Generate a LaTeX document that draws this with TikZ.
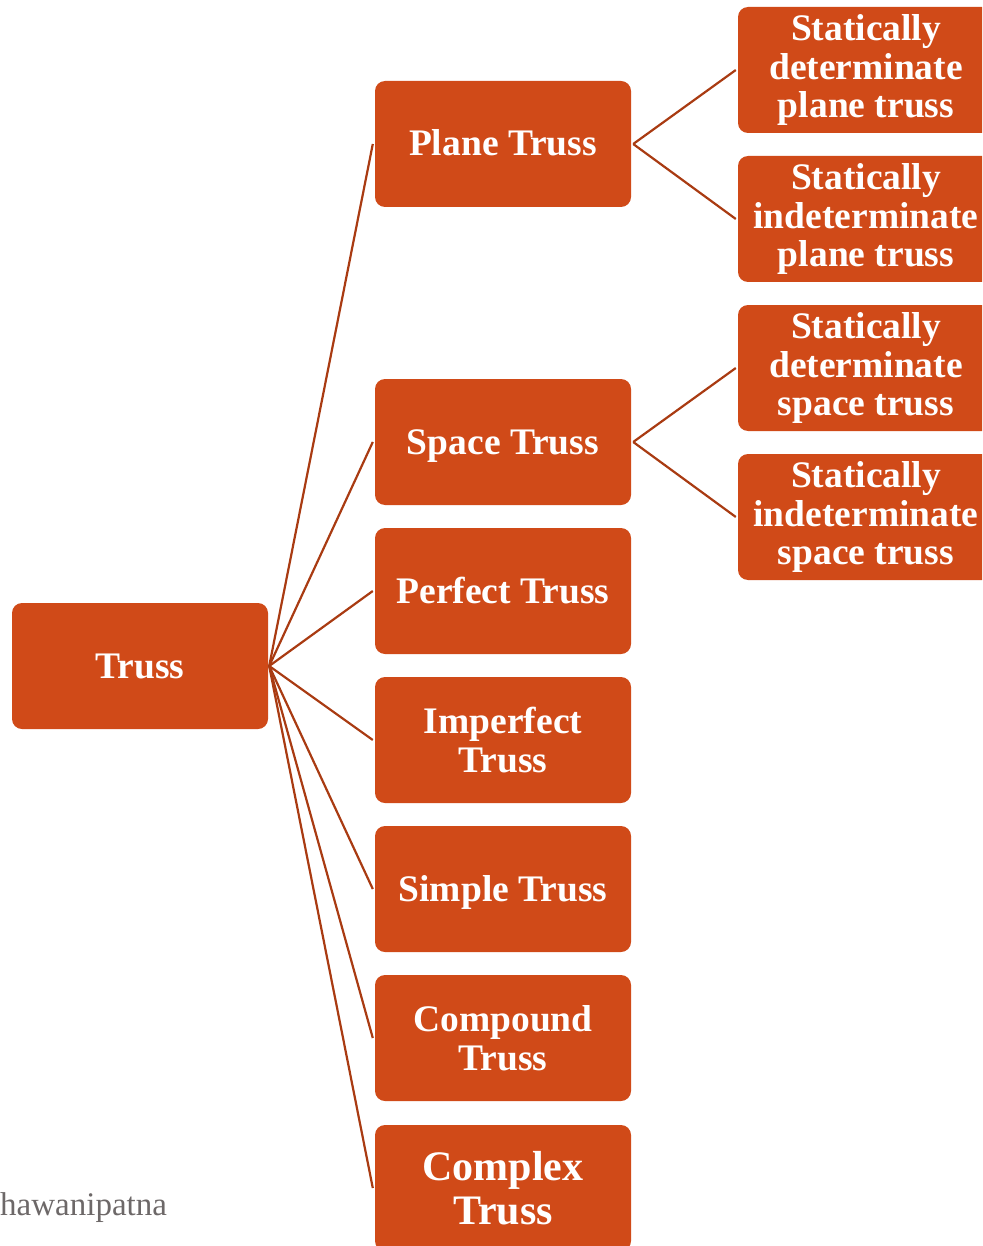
\documentclass[tikz,border=0pt]{standalone}
\usepackage{fontspec}
\setmainfont{Liberation Serif}
\definecolor{boxfill}{HTML}{D04A18}
\definecolor{linecol}{HTML}{A93B12}
\definecolor{wmgray}{HTML}{6D6868}
\begin{document}
\begin{tikzpicture}[x=1pt,y=-1pt,
  box/.style={rectangle,rounded corners=10pt,fill=boxfill,minimum width=256pt,minimum height=126pt,inner sep=2pt,
    text=white,align=center,font=\bfseries\fontsize{37.5}{38.5}\selectfont},
  single/.style={box,text height=28pt,text depth=4pt},
  bigbox/.style={box,font=\bfseries\fontsize{42}{43.5}\selectfont},
  link/.style={draw=linecol,line width=2.2pt}]
\useasboundingbox (0,0) rectangle (982,1246);
\clip (0,0) rectangle (982,1246);
\node[single] (truss) at (140,666) {Truss};
\node[single] (plane) at (503,144) {Plane Truss};
\node[single] (space) at (503,442) {Space Truss};
\node[single] (perfect) at (503,591) {Perfect Truss};
\node[box] (imperfect) at (503,740) {Imperfect\\Truss};
\node[single] (simple) at (503,889) {Simple Truss};
\node[box] (compound) at (503,1038) {Compound\\Truss};
\node[bigbox] (complex) at (503,1188) {Complex\\Truss};
\node[box] (sdp) at (866,70) {Statically\\determinate\\plane truss};
\node[box] (sip) at (866,219) {Statically\\indeterminate\\plane truss};
\node[box] (sds) at (866,368) {Statically\\determinate\\space truss};
\node[box] (sis) at (866,517) {Statically\\indeterminate\\space truss};
\node[anchor=base west,inner sep=0pt,text=wmgray,font=\fontsize{33}{35}\selectfont] (wm) at (0,1215) {hawanipatna};
\coordinate (tr) at ([xshift=1pt]truss.east);
\foreach \n in {plane,space,perfect,imperfect,simple,compound,complex}
  \draw[link] (tr) -- ([xshift=-2pt]\n.west);
\foreach \p/\a/\b in {plane/sdp/sip,space/sds/sis}{
  \draw[link] ([xshift=2pt]\p.east) -- ([xshift=-2pt]\a.west);
  \draw[link] ([xshift=2pt]\p.east) -- ([xshift=-2pt]\b.west);
}
\end{tikzpicture}
\end{document}
